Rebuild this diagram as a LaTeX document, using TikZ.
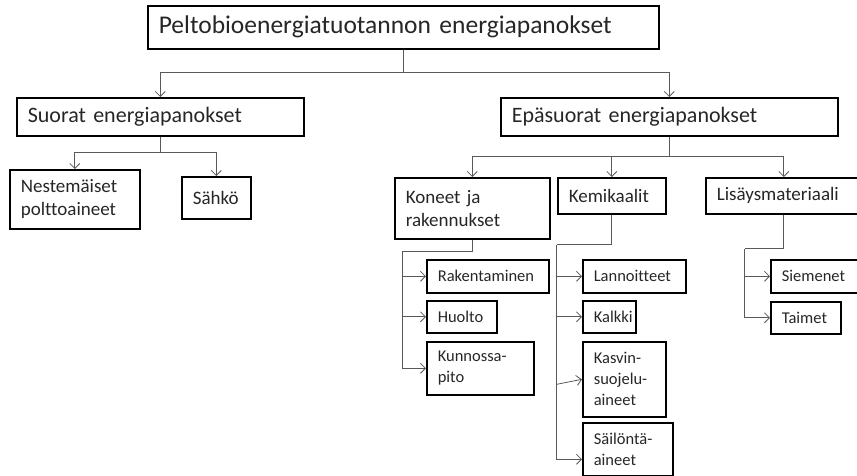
\documentclass[tikz,border=0pt]{standalone}
\usepackage{fontspec}
\setmainfont{Carlito}[Ligatures=NoCommon]
\usetikzlibrary{arrows.meta}

\begin{document}
\begin{tikzpicture}[x=1pt,y=-1pt,
    box/.style 2 args={draw, line width=1.6pt, anchor=north west, inner xsep=11pt,
      inner ysep=0pt, align=left, text width=#1, minimum height=#2, text=black!85},
    lvla/.style={font=\fontsize{25.5}{30}\selectfont},
    lvlb/.style={font=\fontsize{22}{26}\selectfont},
    lvlc/.style={font=\fontsize{19}{23}\selectfont},
    lvld/.style={font=\fontsize{16.5}{21}\selectfont},
    link/.style={draw=black!65, line width=0.8pt},
    arr/.style={link, -{Straight Barb[length=5pt,width=10pt]}}]
    \useasboundingbox (0,0) rectangle (857,476);
    \clip (0,0) rectangle (857,476);

    \node[box={489pt}{43pt}, lvla] (top) at (147,5) {Peltobioenergiatuotannon energiapanokset};
    \node[box={265pt}{38pt}, lvlb] (suorat) at (16,97) {Suorat energiapanokset};
    \node[box={315pt}{38pt}, lvlb] (epa) at (500,97) {Epäsuorat energiapanokset};
    \node[box={108pt}{59pt}, lvlc] (neste) at (9,169) {Nestemäiset\\polttoaineet};
    \node[box={47pt}{42pt}, lvlc] (sahko) at (181,176) {Sähkö};
    \node[box={133pt}{61pt}, lvlc] (koneet) at (394,177) {Koneet ja\\rakennukset};
    \node[box={86pt}{36pt}, lvlc] (kemik) at (557,177) {Kemikaalit};
    \node[box={134pt}{36pt}, lvlc] (lisays) at (705,177) {Lisäysmateriaali};
    \node[box={100pt}{33pt}, lvld] (rakent) at (426,259) {Rakentaminen};
    \node[box={48pt}{32pt}, lvld] (huolto) at (426,300) {Huolto};
    \node[box={85pt}{53pt}, lvld] (kunnos) at (426,341) {Kunnossa-\\pito};
    \node[box={81pt}{33pt}, lvld] (lannoit) at (582,259) {Lannoitteet};
    \node[box={31pt}{32pt}, lvld] (kalkki) at (582,300) {Kalkki};
    \node[box={61pt}{75pt}, lvld] (kasvin) at (582,341) {Kasvin-\\suojelu-\\aineet};
    \node[box={68pt}{53pt}, lvld] (sailo) at (582,422) {Säilöntä-\\aineet};
    \node[box={68pt}{33pt}, lvld] (siemen) at (770,259) {Siemenet};
    \node[box={48pt}{32pt}, lvld] (taimet) at (770,301) {Taimet};

    \draw[arr] (top.south) -- ++(0,23) coordinate (j0) -| (suorat.north);
    \draw[arr] (j0) -| (epa.north);
    \draw[arr] (suorat.south) -- ++(0,16) coordinate (j1) -| (neste.north);
    \draw[arr] (j1) -| (sahko.north);
    \draw[arr] (epa.south) -- ++(0,20) coordinate (j2) -| (koneet.north);
    \draw[arr] (j2) -| (kemik.north);
    \draw[arr] (j2) -| (lisays.north);

    \draw[link] (koneet.south) -- ++(0,12) -- ++(-70,0) coordinate (k0);
    \draw[arr] (k0) |- (kunnos.west);
    \draw[arr] (k0 |- rakent.west) -- (rakent.west);
    \draw[arr] (k0 |- huolto.west) -- (huolto.west);

    \draw[link] (kemik.south) -- ++(0,30) -- ++(-55,0) coordinate (c0);
    \draw[arr] (c0) |- ([yshift=-10pt]sailo.west);
    \draw[arr] (c0 |- lannoit.west) -- (lannoit.west);
    \draw[arr] (c0 |- kalkki.west) -- (kalkki.west);
    \draw[arr] (c0 |- kasvin.west) ++(0,5) -- (kasvin.west);

    \draw[link] (lisays.south) -- ++(0,34) -- ++(-39,0) coordinate (l0);
    \draw[arr] (l0) |- (taimet.west);
    \draw[arr] (l0 |- siemen.west) -- (siemen.west);
\end{tikzpicture}
\end{document}
